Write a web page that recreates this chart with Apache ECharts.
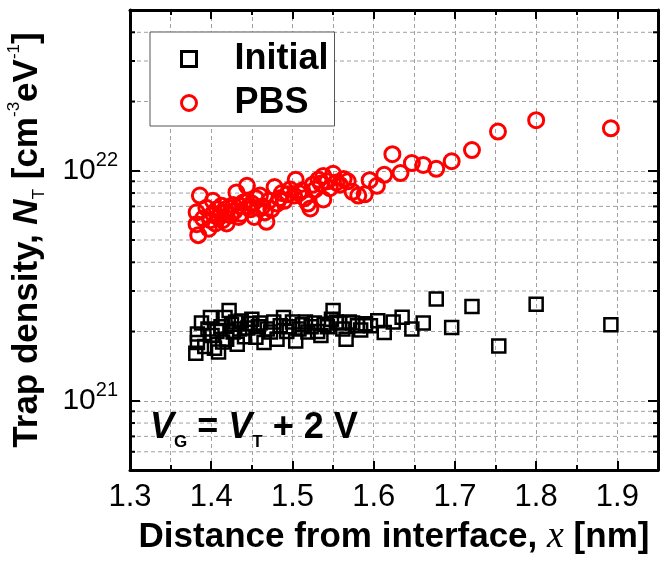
<!DOCTYPE html>
<html>
<head>
<meta charset="utf-8">
<script src="https://cdn.jsdelivr.net/npm/echarts@6/dist/echarts.min.js"></script>
<style>html,body{margin:0;padding:0;background:#fff;}#c{width:661px;height:561px;}</style>
</head>
<body>
<div id="c"></div>
<script>
// ---- data ----
const initialX = [1.381,1.383,1.383,1.388,1.392,1.396,1.399,1.401,1.404,1.407,1.409,1.412,1.414,1.417,1.419,1.422,1.425,1.427,1.430,1.432,1.435,1.437,1.441,1.445,1.448,1.450,1.455,1.458,1.460,1.465,1.469,1.473,1.477,1.481,1.485,1.489,1.493,1.496,1.500,1.504,1.508,1.512,1.516,1.519,1.523,1.527,1.531,1.535,1.539,1.543,1.548,1.550,1.554,1.558,1.562,1.566,1.570,1.574,1.580,1.584,1.590,1.596,1.605,1.613,1.624,1.635,1.647,1.661,1.677,1.696,1.721,1.754,1.800,1.892];
const initialY = [1.61e21,1.79e21,1.95e21,2.18e21,1.72e21,2.05e21,2.30e21,1.92e21,1.69e21,2.00e21,1.63e21,2.10e21,1.80e21,2.30e21,1.85e21,2.47e21,2.15e21,1.99e21,2.20e21,1.76e21,2.05e21,2.22e21,1.90e21,2.07e21,2.17e21,2.26e21,1.89e21,2.10e21,2.18e21,1.79e21,2.05e21,1.99e21,2.20e21,1.85e21,2.12e21,2.30e21,2.00e21,2.10e21,2.20e21,1.82e21,2.05e21,2.14e21,2.20e21,1.99e21,2.10e21,2.18e21,2.00e21,1.92e21,2.15e21,2.10e21,2.26e21,2.47e21,2.20e21,2.18e21,2.05e21,1.85e21,2.20e21,2.18e21,2.12e21,2.03e21,2.16e21,2.12e21,2.23e21,1.98e21,2.20e21,2.31e21,2.05e21,2.18e21,2.77e21,2.08e21,2.57e21,1.73e21,2.63e21,2.14e21];
const pbsX = [1.382,1.382,1.384,1.386,1.390,1.394,1.397,1.399,1.402,1.402,1.405,1.407,1.410,1.413,1.414,1.417,1.419,1.421,1.424,1.427,1.429,1.431,1.434,1.435,1.437,1.440,1.444,1.446,1.448,1.450,1.453,1.455,1.458,1.460,1.463,1.466,1.468,1.471,1.474,1.478,1.481,1.484,1.487,1.490,1.494,1.497,1.502,1.504,1.508,1.512,1.515,1.519,1.522,1.525,1.528,1.532,1.535,1.538,1.538,1.543,1.546,1.550,1.554,1.558,1.563,1.568,1.574,1.581,1.589,1.595,1.604,1.613,1.623,1.633,1.647,1.661,1.677,1.696,1.721,1.753,1.800,1.892];
const pbsY = [6.6e21,5.86e21,5.25e21,7.8e21,6.2e21,6.9e21,5.6e21,6.1e21,7.4e21,6.5e21,5.9e21,6.8e21,6.3e21,7.05e21,6.1e21,6.6e21,5.9e21,6.9e21,6.4e21,7.1e21,6.7e21,8.05e21,6.3e21,7.05e21,6.5e21,7.3e21,8.6e21,7.0e21,6.8e21,7.2e21,6.3e21,7.6e21,6.9e21,7.8e21,7.0e21,6.6e21,6.0e21,7.4e21,6.8e21,8.5e21,7.2e21,7.6e21,8.0e21,7.4e21,7.9e21,8.3e21,7.8e21,9.15e21,8.0e21,8.2e21,7.6e21,7.2e21,6.86e21,8.7e21,8.3e21,9.15e21,8.8e21,9.5e21,7.5e21,9.0e21,8.4e21,9.7e21,8.9e21,8.7e21,9.2e21,9.0e21,8.1e21,7.8e21,7.9e21,9.1e21,8.6e21,9.6e21,1.18e22,9.77e21,1.08e22,1.06e22,1.02e22,1.10e22,1.23e22,1.48e22,1.66e22,1.53e22];
const xMajorTicks = [1.3,1.4,1.5,1.6,1.7,1.8,1.9];
const yMajorTicks = [1e21,1e22];
const yMinorTicks = [6e20,7e20,8e20,9e20,2e21,3e21,4e21,5e21,6e21,7e21,8e21,9e21,2e22,3e22,4e22];
const seriesNames = ['Initial','PBS'];

const FONT = 'Liberation Sans, Arial, sans-serif';
const GRID_COLOR = '#a0a0a0';
const DASH = [4,3];

const chart = echarts.init(document.getElementById('c'), null, {renderer:'canvas'});

function xAxisBase(pos, interval, tickLen, showLabel, showSplit, showLine){
  return {
    type:'value', position:pos, min:1.3, max:1.95, interval:interval,
    axisLine:{show:showLine, onZero:false, lineStyle:{color:'#000', width:3}},
    axisTick:{show:true, inside:true, length:tickLen, lineStyle:{color:'#000', width:2}},
    axisLabel:{show:showLabel, margin:12, fontSize:31, color:'#000', fontFamily:FONT,
      showMaxLabel:false, showMinLabel:true, hideOverlap:false,
      formatter:function(v){ return xMajorTicks.some(t=>Math.abs(t-v)<1e-6) ? v.toFixed(1) : ''; }},
    splitLine:{show:showSplit, lineStyle:{color:GRID_COLOR, width:1, type:DASH}},
    minorTick:{show:false}, minorSplitLine:{show:false}
  };
}

const xAxes = [
  Object.assign(xAxisBase('bottom',0.1,9,true,true,true), {
    name:'Distance from interface, {i|x} [nm]', nameLocation:'middle', nameGap:46,
    nameTextStyle:{fontFamily:FONT, fontSize:35, fontWeight:'bold', color:'#000',
      rich:{i:{fontFamily:'Liberation Serif, Times New Roman, serif', fontStyle:'italic', fontWeight:'normal', fontSize:38, color:'#000'}}}
  }),
  xAxisBase('top',0.1,9,false,false,true),
  xAxisBase('bottom',0.05,5,false,true,false),
  xAxisBase('top',0.05,5,false,false,false)
];

function yAxisBase(pos, showLabel, showSplit){
  return {
    type:'log', logBase:10, position:pos, min:5e20, max:5e22,
    axisLine:{show:true, onZero:false, lineStyle:{color:'#000', width:3}},
    axisTick:{show:true, inside:true, length:10, lineStyle:{color:'#000', width:2}},
    axisLabel:{show:showLabel, margin:12, showMinLabel:false, showMaxLabel:false, hideOverlap:false,
      formatter:function(v){
        if (!yMajorTicks.some(t=>Math.abs(t-v)/t<1e-6)) return '';
        return '{b|10}{s|' + Math.round(Math.log10(v)) + '}';
      },
      rich:{
        b:{fontFamily:FONT, fontSize:30, color:'#000', lineHeight:40, verticalAlign:'middle'},
        s:{fontFamily:FONT, fontSize:20, color:'#000', lineHeight:20, verticalAlign:'top'}
      }},
    splitLine:{show:showSplit, lineStyle:{color:GRID_COLOR, width:1, type:DASH}},
    minorTick:{show:false}, minorSplitLine:{show:false}
  };
}

const yAxes = [
  Object.assign(yAxisBase('left',true,true), {
    name:'{n|Trap density, }{it|N}{sub|T}{n| [cm}{sup|-3}{n|eV}{sup|-1}{n|]}',
    nameLocation:'middle', nameGap:82, nameRotate:90,
    nameTextStyle:{fontFamily:FONT, fontSize:35, fontWeight:'bold', color:'#000',
      rich:{
        n:{fontFamily:FONT, fontSize:35, fontWeight:'bold', color:'#000', lineHeight:42},
        it:{fontFamily:FONT, fontSize:35, fontWeight:'bold', fontStyle:'italic', color:'#000', lineHeight:42},
        sub:{fontFamily:FONT, fontSize:17, fontWeight:'normal', color:'#000', lineHeight:17, verticalAlign:'bottom'},
        sup:{fontFamily:FONT, fontSize:17, fontWeight:'normal', color:'#000', lineHeight:17, verticalAlign:'top'}
      }}
  }),
  yAxisBase('right',false,false)
];

const option = {
  backgroundColor:'#fff',
  animation:false,
  grid:{left:130, right:3, top:10, bottom:91, containLabel:false, outerBoundsMode:'none', show:false},
  xAxis:xAxes,
  yAxis:yAxes,
  legend:{
    orient:'vertical', left:150, top:32, padding:[9,6,5,30], itemGap:8,
    itemWidth:15, itemHeight:15, borderColor:'#555', borderWidth:1, borderRadius:0, backgroundColor:'#fff',
    data:seriesNames, selectedMode:false,
    itemStyle:{borderWidth:3},
    formatter:function(n){ return '{t|' + n + '}'; },
    textStyle:{rich:{t:{fontFamily:FONT, fontSize:36, fontWeight:'bold', color:'#000', padding:[0,0,0,33], lineHeight:44}}}
  },
  graphic:[{
    type:'text', left:150, top:410, z:100,
    style:{
      text:'{v|V}{s|G}{n| = }{v|V}{s|T}{n| + 2 V}',
      rich:{
        v:{fontFamily:FONT, fontSize:36, fontWeight:'bold', fontStyle:'italic', fill:'#000', lineHeight:46},
        n:{fontFamily:FONT, fontSize:36, fontWeight:'bold', fill:'#000', lineHeight:46},
        s:{fontFamily:FONT, fontSize:17, fontWeight:'bold', fill:'#000', lineHeight:17, verticalAlign:'bottom'}
      }
    }
  }],
  series:[
    {
      type:'custom', name:'yMinor', xAxisIndex:0, yAxisIndex:0, z:1, silent:true,
      data:yMinorTicks.map(v=>[1.3, v]),
      encode:{x:0, y:1},
      renderItem:function(params, api){
        const y = api.coord([1.3, api.value(1)])[1];
        const cs = params.coordSys;
        return {type:'group', children:[
          {type:'line', shape:{x1:cs.x, y1:y, x2:cs.x+cs.width, y2:y}, style:{stroke:GRID_COLOR, lineWidth:1, lineDash:DASH}},
          {type:'line', shape:{x1:cs.x, y1:y, x2:cs.x+5, y2:y}, style:{stroke:'#000', lineWidth:2}},
          {type:'line', shape:{x1:cs.x+cs.width-5, y1:y, x2:cs.x+cs.width, y2:y}, style:{stroke:'#000', lineWidth:2}}
        ]};
      }
    },
    {
      type:'scatter', name:seriesNames[0], xAxisIndex:0, yAxisIndex:0, z:3,
      symbol:'rect', symbolSize:13,
      itemStyle:{color:'rgba(0,0,0,0)', borderColor:'#000', borderWidth:2.5, opacity:1},
      data:initialX.map((x,i)=>[x, initialY[i]])
    },
    {
      type:'scatter', name:seriesNames[1], xAxisIndex:0, yAxisIndex:0, z:4,
      symbol:'circle', symbolSize:15,
      itemStyle:{color:'rgba(0,0,0,0)', borderColor:'#ff0000', borderWidth:3, opacity:1},
      data:pbsX.map((x,i)=>[x, pbsY[i]])
    }
  ]
};
chart.setOption(option);
</script>
</body>
</html>
